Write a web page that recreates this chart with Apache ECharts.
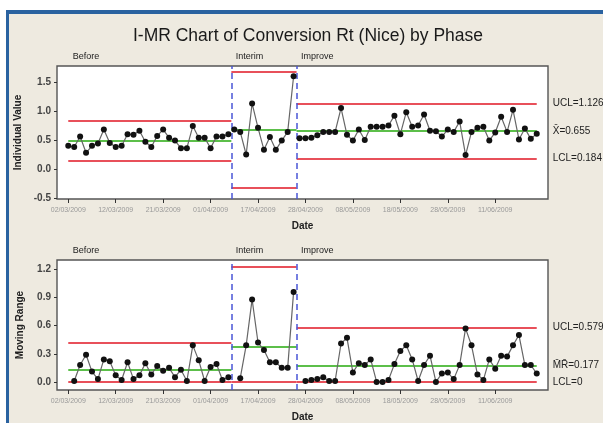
<!DOCTYPE html>
<html>
<head>
<meta charset="utf-8">
<script src="https://cdn.jsdelivr.net/npm/echarts@6.0.0/dist/echarts.min.js"></script>
<style>
  body { margin: 0; background: #fff; }
  #frame { position: absolute; left: 6px; top: 10px; width: 594px; height: 409px; background: #eeeae0;
           border-top: 4px solid #2a62a0; border-left: 3px solid #2a62a0; }
  #chart { position: absolute; left: 0; top: 0; width: 603px; height: 423px; }
</style>
</head>
<body>
<div id="frame"></div>
<div id="chart"></div>
<script>
// x tick positions (observation index) and their date labels
var tickIndex = [0, 8, 16, 24, 32, 40, 48, 56, 64, 72]
var tickDates = ['02/03/2009', '12/03/2009', '21/03/2009', '01/04/2009', '17/04/2009',
  '28/04/2009', '08/05/2009', '18/05/2009', '28/05/2009', '11/06/2009']

// phases: name and index of first observation
var phaseNames = ['Before', 'Interim', 'Improve']
var phaseStart = [0, 28, 39]

// individual values
var individual = [
  0.40, 0.38, 0.56, 0.28, 0.40, 0.44, 0.68, 0.45, 0.38, 0.40, 0.60, 0.59, 0.66, 0.47,
  0.38, 0.57, 0.68, 0.54, 0.49, 0.36, 0.36, 0.74, 0.54, 0.54, 0.36, 0.56, 0.56, 0.60,
  0.68, 0.64, 0.25, 1.13, 0.71, 0.33, 0.55, 0.33, 0.49, 0.64, 1.60,
  0.53, 0.53, 0.54, 0.58, 0.64, 0.64, 0.64, 1.05, 0.59, 0.49, 0.68, 0.50, 0.73, 0.73,
  0.73, 0.75, 0.92, 0.60, 0.98, 0.73, 0.75, 0.94, 0.66, 0.65, 0.56, 0.68, 0.64, 0.82,
  0.24, 0.64, 0.71, 0.73, 0.49, 0.63, 0.90, 0.64, 1.02, 0.51, 0.70, 0.52, 0.61
]
// moving ranges (none on the first point of a phase)
var movingRange = [
  null, 0.01, 0.18, 0.29, 0.11, 0.03, 0.24, 0.22, 0.07, 0.02, 0.21, 0.03, 0.07, 0.20,
  0.08, 0.17, 0.12, 0.15, 0.05, 0.13, 0.01, 0.39, 0.23, 0.01, 0.16, 0.19, 0.02, 0.05,
  null, 0.04, 0.39, 0.88, 0.42, 0.34, 0.21, 0.21, 0.15, 0.15, 0.96,
  null, 0.01, 0.02, 0.03, 0.05, 0.01, 0.01, 0.41, 0.47, 0.10, 0.20, 0.18, 0.24, 0.00,
  0.00, 0.02, 0.19, 0.33, 0.39, 0.24, 0.01, 0.18, 0.28, 0.00, 0.09, 0.10, 0.03, 0.18,
  0.57, 0.39, 0.08, 0.02, 0.24, 0.14, 0.28, 0.27, 0.39, 0.50, 0.18, 0.18, 0.09
]

// control limits per phase
var iUCL = [0.83, 1.67, 1.126]
var iCL = [0.49, 0.67, 0.655]
var iLCL = [0.15, -0.33, 0.184]
var mrUCL = [0.42, 1.23, 0.579]
var mrCL = [0.13, 0.38, 0.177]
var mrLCL = [0, 0, 0]

var iTicks = [-0.5, 0, 0.5, 1.0, 1.5]
var mrTicks = [0, 0.3, 0.6, 0.9, 1.2]

var FONT = 'Liberation Sans'
var RED = '#e8505a'
var GREEN = '#5cbf4a'
var BLUE = '#4a55d6'

var n = individual.length
function phaseFrom(p) { return p === 0 ? phaseStart[0] : phaseStart[p] - 0.5 }
function phaseTo(p) { return p === phaseStart.length - 1 ? n - 1 : phaseStart[p + 1] - 0.5 }

function limitSeg(p, v, color, label) {
  var first = { coord: [phaseFrom(p), v], lineStyle: { color: color, width: 2, type: 'solid' } }
  if (label) {
    first.label = {
      show: true, position: 'end', distance: 16, formatter: label,
      color: '#222', fontSize: 10, fontFamily: FONT
    }
  } else {
    first.label = { show: false }
  }
  return [first, { coord: [phaseTo(p), v] }]
}

function buildSeries(values, ucl, cl, lcl, clName, axisIdx, yMax) {
  var out = []
  for (var p = 0; p < phaseNames.length; p++) {
    var pts = []
    var end = p === phaseStart.length - 1 ? n : phaseStart[p + 1]
    for (var i = phaseStart[p]; i < end; i++) {
      if (values[i] !== null) pts.push([i, values[i]])
    }
    var last = p === phaseNames.length - 1
    var ml = [
      limitSeg(p, ucl[p], RED, last ? 'UCL=' + ucl[p] : null),
      limitSeg(p, cl[p], GREEN, last ? clName + '=' + cl[p] : null),
      limitSeg(p, lcl[p], RED, last ? 'LCL=' + lcl[p] : null)
    ]
    if (p > 0) {
      ml.push({ xAxis: phaseFrom(p), lineStyle: { color: BLUE, width: 1.5, type: [6, 4] }, label: { show: false } })
    }
    out.push({
      type: 'line',
      xAxisIndex: axisIdx,
      yAxisIndex: axisIdx,
      data: pts,
      symbol: 'circle',
      symbolSize: 6,
      itemStyle: { color: '#111' },
      lineStyle: { color: '#666', width: 1.2 },
      z: 3,
      animation: false,
      markLine: { silent: true, symbol: ['none', 'none'], data: ml, animation: false, z: 2 },
      markPoint: {
        silent: true,
        symbol: 'rect',
        symbolSize: 1,
        itemStyle: { color: 'rgba(0,0,0,0)' },
        animation: false,
        data: [{
          coord: [phaseFrom(p), yMax],
          label: {
            show: true, formatter: phaseNames[p], position: [5, -13],
            color: '#222', fontSize: 9, fontFamily: FONT
          }
        }]
      }
    })
  }
  return out
}

var chart = echarts.init(document.getElementById('chart'), null, { renderer: 'canvas' })

var xBase = {
  type: 'value',
  min: -1.9,
  max: 80.9,
  axisLine: { show: false, onZero: false },
  splitLine: { show: false },
  axisTick: { show: true, customValues: tickIndex, length: 4, lineStyle: { color: '#333' } },
  axisLabel: {
    customValues: tickIndex,
    fontSize: 7,
    color: '#999',
    fontFamily: FONT,
    margin: 8,
    formatter: function(v) { return tickDates[tickIndex.indexOf(v)] }
  },
  name: 'Date',
  nameLocation: 'middle',
  nameGap: 22,
  nameTextStyle: { fontWeight: 'bold', fontSize: 10, color: '#222', fontFamily: FONT }
}

function yAxis(gridIdx, min, max, ticks, name, digits) {
  return {
    type: 'value',
    gridIndex: gridIdx,
    min: min,
    max: max,
    axisLine: { show: false, onZero: false },
    splitLine: { show: false },
    axisTick: { show: true, customValues: ticks, length: 3, lineStyle: { color: '#333' } },
    axisLabel: {
      customValues: ticks,
      fontSize: 10,
      color: '#444',
      fontWeight: 'bold',
      fontFamily: FONT,
      margin: 6,
      formatter: function(v) { return v.toFixed(digits) }
    },
    name: name,
    nameLocation: 'middle',
    nameRotate: 90,
    nameGap: 32,
    nameTextStyle: { fontWeight: 'bold', fontSize: 10, color: '#222', fontFamily: FONT }
  }
}

var iMax = 1.776
var mrMax = 1.30

chart.setOption({
  backgroundColor: 'transparent',
  textStyle: { fontFamily: FONT },
  title: {
    text: 'I-MR Chart of Conversion Rt (Nice) by Phase',
    left: 303,
    textAlign: 'center',
    top: 22,
    textStyle: { fontSize: 17.5, fontWeight: 'normal', color: '#1a1a1a', fontFamily: FONT }
  },
  grid: [
    { left: 57, top: 66, width: 491, height: 133, show: true, backgroundColor: '#fff', borderColor: '#555', borderWidth: 1.4 },
    { left: 57, top: 260, width: 491, height: 134, show: true, backgroundColor: '#fff', borderColor: '#555', borderWidth: 1.4 }
  ],
  xAxis: [
    Object.assign({}, xBase, { gridIndex: 0 }),
    Object.assign({}, xBase, { gridIndex: 1 })
  ],
  yAxis: [
    yAxis(0, -0.517, iMax, iTicks, 'Individual Value', 1),
    yAxis(1, -0.086, mrMax, mrTicks, 'Moving Range', 1)
  ],
  series: buildSeries(individual, iUCL, iCL, iLCL, 'X\u0304', 0, iMax)
    .concat(buildSeries(movingRange, mrUCL, mrCL, mrLCL, 'M\u0304R\u0304', 1, mrMax))
})
</script>
</body>
</html>
